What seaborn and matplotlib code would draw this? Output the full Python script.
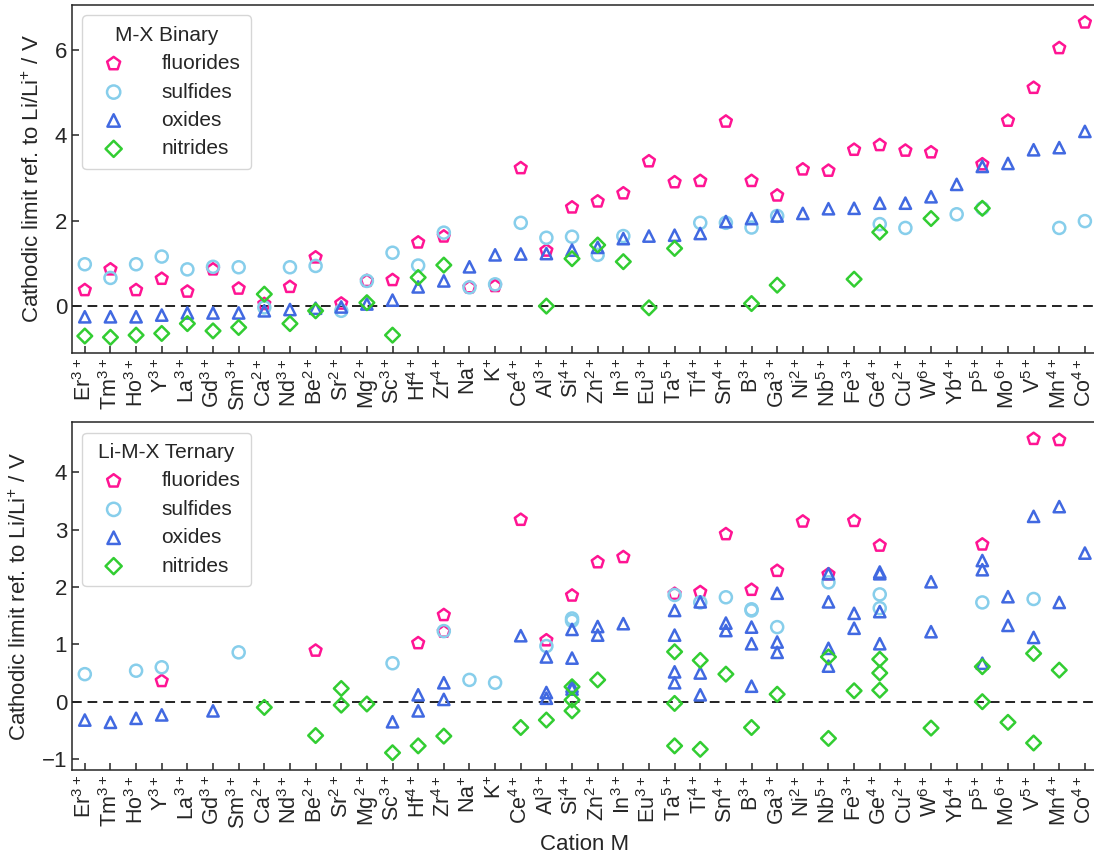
# Cathodic limits of M-X binary and Li-M-X ternary compounds per cation
import numpy as np
import pandas as pd
import matplotlib
matplotlib.use('Agg')
import matplotlib.pyplot as plt
import seaborn as sns

# ── DATA ─────────────────────────────────────────────────────
cations = ['Er', 'Tm', 'Ho', 'Y', 'La', 'Gd', 'Sm', 'Ca', 'Nd', 'Be',
           'Sr', 'Mg', 'Sc', 'Hf', 'Zr', 'Na', 'K', 'Ce', 'Al', 'Si',
           'Zn', 'In', 'Eu', 'Ta', 'Ti', 'Sn', 'B', 'Ga', 'Ni', 'Nb',
           'Fe', 'Ge', 'Cu', 'W', 'Yb', 'P', 'Mo', 'V', 'Mn', 'Co']
charges = ['3+', '3+', '3+', '3+', '3+', '3+', '3+', '2+', '3+', '2+',
           '2+', '2+', '3+', '4+', '4+', '+', '+', '4+', '3+', '4+',
           '2+', '3+', '3+', '5+', '4+', '4+', '3+', '3+', '2+', '5+',
           '3+', '4+', '2+', '6+', '4+', '5+', '6+', '5+', '4+', '4+']

nan = np.nan
# binary M-X, one value per cation (nan = no compound)
bin_fluorides = [0.375, 0.86, 0.375, 0.64, 0.34, 0.86, 0.41, 0.05, 0.45, 1.14,
                 0.06, 0.59, 0.61, 1.49, 1.63, 0.44, 0.47, 3.23, 1.30, 2.31,
                 2.45, 2.64, 3.39, 2.90, 2.93, 4.32, 2.93, 2.59, 3.20, 3.17,
                 3.66, 3.77, 3.64, 3.60, nan, 3.32, 4.34, 5.11, 6.04, 6.64]
bin_sulfides = [0.98, 0.66, 0.98, 1.16, 0.86, 0.92, 0.91, -0.03, 0.91, 0.94,
                -0.11, 0.59, 1.25, 0.95, 1.72, 0.44, 0.51, 1.95, 1.60, 1.625,
                1.20, 1.64, nan, nan, 1.95, 1.95, 1.84, 2.11, nan, nan,
                nan, 1.92, 1.83, nan, 2.15, 2.29, nan, nan, 1.83, 1.99]
bin_oxides = [-0.25, -0.25, -0.25, -0.21, -0.16, -0.16, -0.16, -0.11, -0.08, -0.05,
              -0.02, 0.05, 0.14, 0.45, 0.59, 0.92, 1.20, 1.22, 1.23, 1.31,
              1.375, 1.58, 1.64, 1.66, 1.70, 1.98, 2.05, 2.11, 2.17, 2.28,
              2.29, 2.41, 2.41, 2.56, 2.85, 3.27, 3.34, 3.66, 3.71, 4.09]
bin_nitrides = [-0.70, -0.73, -0.68, -0.64, -0.41, -0.58, -0.50, 0.28, -0.41, -0.11,
                nan, 0.08, -0.68, 0.67, 0.96, nan, nan, nan, 0.0, 1.11,
                1.43, 1.04, -0.04, 1.35, nan, nan, 0.06, 0.49, nan, nan,
                0.63, 1.73, nan, 2.05, nan, 2.29, nan, nan, nan, nan]

# ternary Li-M-X, several compounds per cation
ter_fluorides = {'Y': [0.36], 'Be': [0.89], 'Hf': [1.02], 'Zr': [1.51, 1.22],
                 'Ce': [3.17], 'Al': [1.07], 'Si': [1.85], 'Zn': [2.43],
                 'In': [2.52], 'Ta': [1.88], 'Ti': [1.91], 'Sn': [2.92],
                 'B': [1.95], 'Ga': [2.28], 'Ni': [3.14], 'Nb': [2.22],
                 'Fe': [3.15], 'Ge': [2.72], 'P': [2.74], 'V': [4.58], 'Mn': [4.56]}
ter_sulfides = {'Er': [0.48], 'Ho': [0.54], 'Y': [0.60], 'Sm': [0.86],
                'Sc': [0.67], 'Zr': [1.23], 'Na': [0.38], 'K': [0.33],
                'Al': [0.97], 'Si': [1.45, 1.41], 'Ta': [1.86], 'Ti': [1.73],
                'Sn': [1.82], 'B': [1.61, 1.59], 'Ga': [1.30], 'Nb': [2.08],
                'Ge': [1.87, 1.63], 'P': [1.73], 'V': [1.79]}
ter_oxides = {'Er': [-0.32], 'Tm': [-0.36], 'Ho': [-0.29], 'Y': [-0.23],
              'Gd': [-0.16], 'Sc': [-0.35], 'Hf': [0.12, -0.16], 'Zr': [0.33, 0.04],
              'Ce': [1.15], 'Al': [0.78, 0.16, 0.06], 'Si': [1.26, 0.76, 0.27, 0.22],
              'Zn': [1.31, 1.16], 'In': [1.36], 'Ta': [1.59, 1.16, 0.52, 0.33],
              'Ti': [1.74, 0.50, 0.12], 'Sn': [1.37, 1.24], 'B': [1.30, 1.01, 0.27],
              'Ga': [1.89, 1.04, 0.86], 'Nb': [2.23, 1.74, 0.93, 0.62],
              'Fe': [1.54, 1.28], 'Ge': [2.26, 2.23, 1.57, 1.01], 'W': [2.09, 1.22],
              'P': [2.46, 2.30, 0.67], 'Mo': [1.83, 1.33], 'V': [3.23, 1.12],
              'Mn': [3.40, 1.73], 'Co': [2.59]}
ter_nitrides = {'Ca': [-0.10], 'Be': [-0.59], 'Sr': [0.23, -0.06], 'Mg': [-0.04],
                'Sc': [-0.89], 'Hf': [-0.77], 'Zr': [-0.60], 'Ce': [-0.45],
                'Al': [-0.32], 'Si': [0.26, 0.03, -0.16], 'Zn': [0.38],
                'Ta': [0.87, -0.03, -0.77], 'Ti': [0.72, -0.83], 'Sn': [0.48],
                'B': [-0.45], 'Ga': [0.13], 'Nb': [0.78, -0.64], 'Fe': [0.19],
                'Ge': [0.74, 0.50, 0.20], 'W': [-0.46], 'P': [0.61, 0.0],
                'Mo': [-0.36], 'V': [0.84, -0.72], 'Mn': [0.55]}

anions = ['fluorides', 'sulfides', 'oxides', 'nitrides']
colors = {'fluorides': '#ff1493', 'sulfides': '#87ceeb',
          'oxides': '#4169e1', 'nitrides': '#32cd32'}
markers = {'fluorides': 'p', 'sulfides': 'o', 'oxides': '^', 'nitrides': 'D'}
sizes = {'fluorides': 80, 'sulfides': 75, 'oxides': 66, 'nitrides': 56}

# ── LONG TABLES ──────────────────────────────────────────────
idx = {c: i for i, c in enumerate(cations)}
rows = []
for an, vals in zip(anions, [bin_fluorides, bin_sulfides, bin_oxides, bin_nitrides]):
    for c, v in zip(cations, vals):
        if not np.isnan(v):
            rows.append(('binary', an, idx[c], v))
for an, d in zip(anions, [ter_fluorides, ter_sulfides, ter_oxides, ter_nitrides]):
    for c, vs in d.items():
        for v in vs:
            rows.append(('ternary', an, idx[c], v))
df = pd.DataFrame(rows, columns=['panel', 'anion', 'x', 'value'])

# ── STYLE ────────────────────────────────────────────────────
sns.set_style('ticks')
plt.rcParams['font.family'] = ['Liberation Sans', 'DejaVu Sans']
plt.rcParams['mathtext.default'] = 'regular'

fig = plt.figure(figsize=(10.94, 8.56), dpi=100)
ax1 = fig.add_axes([0.0658, 0.588, 0.9376, 0.4062])
ax2 = fig.add_axes([0.0658, 0.1005, 0.9376, 0.4062])

ticklabels = [f'{c}$^{{{q}}}$' for c, q in zip(cations, charges)]

for ax, panel, title, ylim, yticks in [
        (ax1, 'binary', 'M-X Binary', (-1.09, 7.05), [0, 2, 4, 6]),
        (ax2, 'ternary', 'Li-M-X Ternary', (-1.19, 4.87), [-1, 0, 1, 2, 3, 4])]:
    ax.axhline(0, color='#222222', ls=(0, (5, 3)), lw=1.4, zorder=1)
    sub = df[df['panel'] == panel]
    for an in anions:
        d = sub[sub['anion'] == an]
        sns.scatterplot(data=d, x='x', y='value', ax=ax, marker=markers[an],
                        s=sizes[an], facecolor='none', edgecolor=colors[an],
                        color=colors[an], linewidth=1.8, label=an, zorder=3)
    ax.set_xlim(-0.5, 39.5)
    ax.set_ylim(*ylim)
    ax.set_yticks(yticks)
    ax.set_xticks(range(len(cations)))
    ax.set_xticklabels(ticklabels, rotation=90, fontsize=15.5)
    ax.tick_params(axis='both', direction='in', length=5, width=1.1)
    ax.tick_params(axis='y', labelsize=16)
    ax.set_ylabel('Cathodic limit ref. to Li/Li$^{+}$ / V', fontsize=16, labelpad=8)
    for sp in ax.spines.values():
        sp.set_linewidth(1.1)
    ax.legend(title=title, loc='upper left', fontsize=15, title_fontsize=15,
              handletextpad=1.3, borderpad=0.5, labelspacing=0.45,
              markerscale=1.1, edgecolor='#cccccc')

ax1.set_xlabel('')
ax2.set_xlabel('Cation M', fontsize=16)

plt.savefig('out.png', dpi=100)
